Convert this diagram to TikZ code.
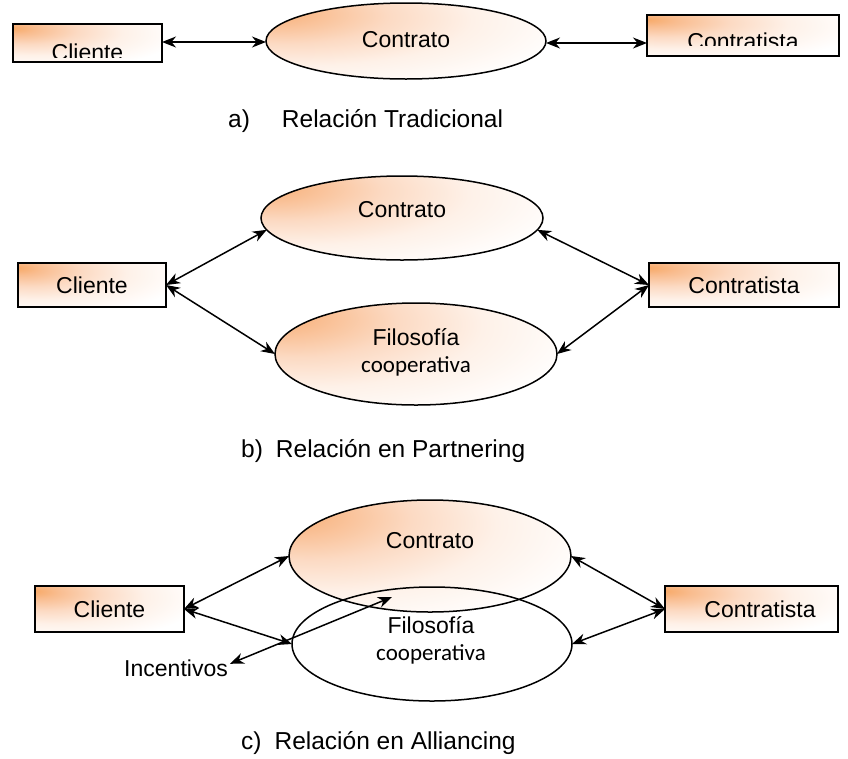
\documentclass[tikz,border=0pt]{standalone}
\usepackage{fontspec}
\setmainfont{Liberation Sans}
\newfontfamily\calfont{Carlito}
\usetikzlibrary{shapes.geometric,arrows.meta}
\definecolor{peachhot}{HTML}{F7A865}
\definecolor{peachwarm}{HTML}{F9BD90}
\definecolor{peachsoft}{HTML}{FCDAC3}
\definecolor{peachpale}{HTML}{FEF1E8}
% warm glow centred towards the upper-left of the filled shape
\pgfdeclareradialshading{glow}{\pgfpoint{-26bp}{20bp}}{%
  color(0bp)=(peachhot); color(7bp)=(peachwarm); color(18bp)=(peachsoft);
  color(30bp)=(peachpale); color(45bp)=(white); color(100bp)=(white)}
\tikzset{
  warm/.style={shade, shading=glow},
  boxnode/.style={draw, line width=1.5pt, rectangle, inner sep=0pt, outer sep=0pt},
  ovalnode/.style={draw, line width=1.5pt, ellipse, inner sep=0pt, outer sep=0pt},
  txt/.style={font=\fontsize{23}{27}\selectfont, inner sep=0pt},
  coop/.style={font=\calfont\fontsize{23}{27}\selectfont, inner sep=0pt},
  captext/.style={font=\fontsize{24.5}{28}\selectfont, inner sep=0pt, anchor=base west},
  link/.style={{Stealth[length=14pt,width=11pt,inset=4.5pt]}-{Stealth[length=14pt,width=11pt,inset=4.5pt]}, line width=1.5pt},
}
\begin{document}
\begin{tikzpicture}[x=1pt,y=-1pt]
\useasboundingbox[fill=white] (0,0) rectangle (848,758);

% ---------- a) traditional relation ----------
\node[boxnode, warm, minimum width=149pt, minimum height=38pt] (cliA) at (87.5,43) {};
\node[boxnode, warm, minimum width=192pt, minimum height=41pt] (ctaA) at (743,35.5) {};
\begin{scope}
  \clip (13,20) rectangle (162,57);
  \node[txt, anchor=base] (cliAt) at (87.5,60) {Cliente};
\end{scope}
\begin{scope}
  \clip (648,15) rectangle (838,45.5);
  \node[txt, anchor=base] (ctaAt) at (743,49) {Contratista};
\end{scope}
\node[ovalnode, warm, minimum width=280pt, minimum height=76pt] (conA) at (406,41) {};
\node[txt, anchor=base] (conAt) at (406,47) {Contrato};
\draw[link] (cliA.east |- 0,42) -- (conA.west |- 0,42);
\draw[link] (conA.east |- 0,43) -- (ctaA.west |- 0,43);
\node[captext] (capA) at (228,127) {a)\hspace{32pt}Relación Tradicional};

% ---------- b) partnering ----------
\node[boxnode, warm, minimum width=148pt, minimum height=44pt] (cliB) at (92,285) {};
\node[txt] (cliBt) at (92,285) {Cliente};
\node[boxnode, warm, minimum width=190pt, minimum height=44pt] (ctaB) at (744,285) {};
\node[txt] (ctaBt) at (744,285) {Contratista};
\node[ovalnode, warm, minimum width=282pt, minimum height=84pt] (conB) at (402,218) {};
\node[txt, anchor=base] (conBt) at (402,217) {Contrato};
\node[ovalnode, warm, minimum width=282pt, minimum height=102pt] (filB) at (416,354) {};
\node[txt, anchor=base] (filBt) at (416,345) {Filosofía};
\node[coop, anchor=base] (filBc) at (416,372) {cooperativa};
\draw[link] (cliB.east) -- (conB.185);
\draw[link] (cliB.east) -- (filB.west);
\draw[link] (ctaB.west) -- (conB.355);
\draw[link] (ctaB.west) -- (filB.east);
\node[captext] (capB) at (241,457) {b)\hspace{13pt}Relación en Partnering};

% ---------- c) alliancing ----------
\node[boxnode, warm, minimum width=149pt, minimum height=46pt] (cliC) at (109.5,609) {};
\node[txt] (cliCt) at (109.5,609) {Cliente};
\node[boxnode, warm, minimum width=173pt, minimum height=46pt] (ctaC) at (751.5,609) {};
\node[txt] (ctaCt) at (760,609) {Contratista};
\node[ovalnode, warm, minimum width=282pt, minimum height=112pt] (conC) at (430,556) {};
\node[ovalnode, minimum width=280pt, minimum height=114pt] (filC) at (432,644) {};
\node[txt, anchor=base] (conCt) at (430,548) {Contrato};
\node[txt, anchor=base] (filCt) at (431,633) {Filosofía};
\node[coop, anchor=base] (filCc) at (431,660) {cooperativa};
\node[txt, anchor=base east] (inc) at (228,676) {Incentivos};
\coordinate (incTip) at (392,597);
\draw[link] (cliC.east) -- (conC.west);
\draw[link] (cliC.east) -- (filC.west);
\draw[link] ([xshift=2pt,yshift=4pt]inc.east) -- (incTip);
\draw[link] (ctaC.west) -- (conC.east);
\draw[link] (ctaC.west) -- (filC.east);
\node[captext] (capC) at (241,749) {c)\hspace{13pt}Relación en Alliancing};
\end{tikzpicture}
\end{document}
